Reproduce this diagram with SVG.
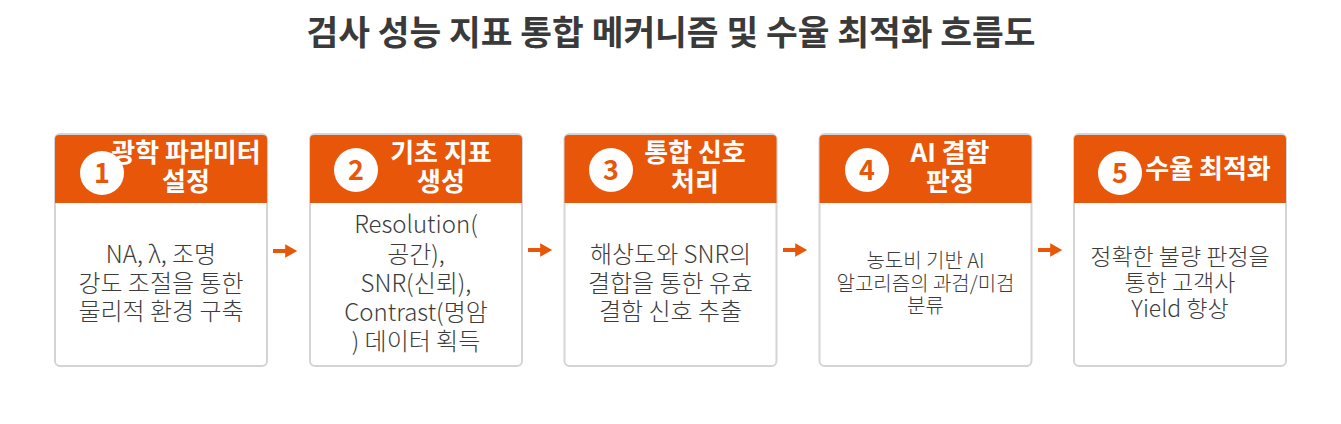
<svg xmlns="http://www.w3.org/2000/svg" width="1341" height="424" viewBox="0 0 1341 424">
<style>
.title{font-family:"Noto Sans CJK KR","Noto Sans",sans-serif;font-weight:700;font-size:34.5px;fill:#3a3a3a;text-anchor:middle}
.card{fill:#ffffff;stroke:#d4d4d4;stroke-width:2}
.head{fill:#e8560a}
.ht{font-family:"Noto Sans CJK KR","Noto Sans",sans-serif;font-weight:700;font-size:26px;fill:#ffffff;text-anchor:middle}
.num{font-family:"Noto Sans CJK KR","Noto Sans",sans-serif;font-weight:700;font-size:27px;fill:#e8560a;text-anchor:middle}
.circ{fill:#ffffff}
.bt{font-family:"Noto Sans CJK KR","Noto Sans",sans-serif;font-weight:300;font-size:24px;fill:#3c3c3c;text-anchor:middle}
.bs{font-family:"Noto Sans CJK KR","Noto Sans",sans-serif;font-weight:300;font-size:20px;fill:#3c3c3c;text-anchor:middle}
.bm{font-family:"Noto Sans CJK KR","Noto Sans",sans-serif;font-weight:300;font-size:23px;fill:#3c3c3c;text-anchor:middle}
.conn{stroke:#e8560a;stroke-width:4;fill:none}
</style>
<defs>
<marker id="ah" markerWidth="4" markerHeight="4" refX="1.2" refY="2" orient="auto" markerUnits="strokeWidth">
<path d="M0,0.3 L3,2 L0,3.7 Z" fill="#e8560a"/>
</marker>
</defs>
<text class="title" x="671" y="45">검사 성능 지표 통합 메커니즘 및 수율 최적화 흐름도</text>

<g id="node1">
<rect class="card" x="55" y="134" width="212" height="232" rx="5"/>
<path class="head" d="M55,139 Q55,135 59,135 L263,135 Q267,135 267,139 L267,203 L55,203 Z"/>
<circle class="circ" cx="102" cy="173" r="22"/>
<text class="num" x="102" y="183">1</text>
<text class="ht" x="186" y="162">광학 파라미터</text>
<text class="ht" x="186" y="191">설정</text>
<text class="bt" x="161" y="263">NA, λ, 조명</text>
<text class="bt" x="161" y="292">강도 조절을 통한</text>
<text class="bt" x="161" y="320">물리적 환경 구축</text>
</g>

<g id="node2">
<rect class="card" x="310" y="134" width="212" height="232" rx="5"/>
<path class="head" d="M310,139 Q310,135 314,135 L518,135 Q522,135 522,139 L522,203 L310,203 Z"/>
<circle class="circ" cx="356" cy="170" r="22"/>
<text class="num" x="356" y="180">2</text>
<text class="ht" x="441" y="162">기초 지표</text>
<text class="ht" x="441" y="191">생성</text>
<text class="bt" x="416" y="233">Resolution(</text>
<text class="bt" x="416" y="263">공간),</text>
<text class="bt" x="416" y="292">SNR(신뢰),</text>
<text class="bt" x="416" y="321">Contrast(명암</text>
<text class="bt" x="416" y="350">) 데이터 획득</text>
</g>

<g id="node3">
<rect class="card" x="564.5" y="134" width="212" height="232" rx="5"/>
<path class="head" d="M564.5,139 Q564.5,135 568.5,135 L772.5,135 Q776.5,135 776.5,139 L776.5,203 L564.5,203 Z"/>
<circle class="circ" cx="611" cy="170" r="22"/>
<text class="num" x="611" y="180">3</text>
<text class="ht" x="695" y="162">통합 신호</text>
<text class="ht" x="695" y="191">처리</text>
<text class="bt" x="670.5" y="263">해상도와 SNR의</text>
<text class="bt" x="670.5" y="292">결합을 통한 유효</text>
<text class="bt" x="670.5" y="320">결함 신호 추출</text>
</g>

<g id="node4">
<rect class="card" x="819.5" y="134" width="212" height="232" rx="5"/>
<path class="head" d="M819.5,139 Q819.5,135 823.5,135 L1027.5,135 Q1031.5,135 1031.5,139 L1031.5,203 L819.5,203 Z"/>
<circle class="circ" cx="867" cy="170" r="22"/>
<text class="num" x="867" y="180">4</text>
<text class="ht" x="950" y="162">AI 결함</text>
<text class="ht" x="950" y="191">판정</text>
<text class="bs" x="925.5" y="268">농도비 기반 AI</text>
<text class="bs" x="925.5" y="291">알고리즘의 과검/미검</text>
<text class="bs" x="925.5" y="313">분류</text>
</g>

<g id="node5">
<rect class="card" x="1074" y="134" width="212" height="232" rx="5"/>
<path class="head" d="M1074,139 Q1074,135 1078,135 L1282,135 Q1286,135 1286,139 L1286,203 L1074,203 Z"/>
<circle class="circ" cx="1120" cy="173" r="22"/>
<text class="num" x="1120" y="183">5</text>
<text class="ht" x="1208" y="178">수율 최적화</text>
<text class="bm" x="1180" y="265">정확한 불량 판정을</text>
<text class="bm" x="1180" y="291">통한 고객사</text>
<text class="bm" x="1180" y="317">Yield 향상</text>
</g>

<g id="connectors">
<line class="conn" x1="273" y1="251" x2="290" y2="251" marker-end="url(#ah)"/>
<line class="conn" x1="528" y1="250" x2="545" y2="250" marker-end="url(#ah)"/>
<line class="conn" x1="783" y1="250" x2="800" y2="250" marker-end="url(#ah)"/>
<line class="conn" x1="1038" y1="250" x2="1055" y2="250" marker-end="url(#ah)"/>
</g>
</svg>
